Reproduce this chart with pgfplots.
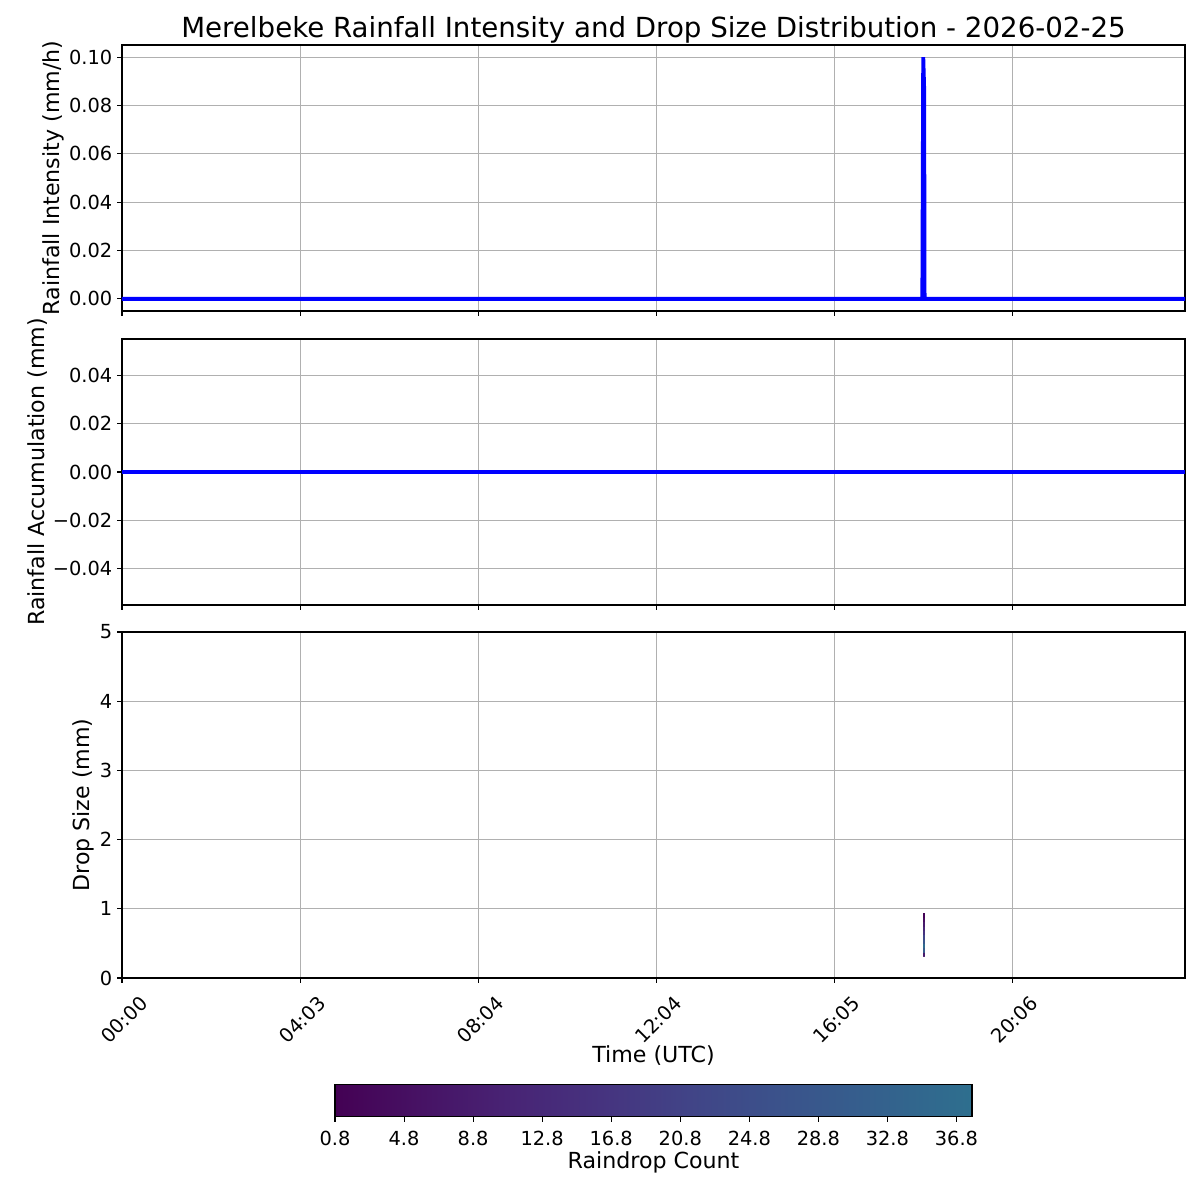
\documentclass[border=0pt]{standalone}
\usepackage{fontspec}
\setmainfont{DejaVu Sans}
\usepackage{pgfplots}
\pgfplotsset{compat=1.18}
\newlength\px \setlength\px{0.7227pt}
\definecolor{gridgray}{HTML}{B0B0B0}
\pgfplotsset{
  base/.style={scale only axis, width=1063\px, xmin=0, xmax=24,
    xtick={0,4.02,8.04,12.06,16.08,20.1},
    scaled ticks=false,
    grid=major, grid style={gridgray, line width=0.8pt},
    axis line style={line width=0.8pt},
    tick style={black, line width=0.8pt},
    tick align=outside, major tick length=3.5pt,
    tick pos=left,
    ticklabel style={font=\fontsize{14}{16}\selectfont},
    label style={font=\fontsize{16}{19}\selectfont},
    ylabel style={yshift=-4\px},
  },
}
\pgfplotsset{colormap={vir}{rgb255(0)=(68,1,84) rgb255(5)=(71,19,101) rgb255(10)=(72,36,117) rgb255(15)=(70,51,127) rgb255(20)=(65,68,135) rgb255(25)=(59,82,139) rgb255(30)=(53,95,141) rgb255(36)=(46,111,142)}}
\begin{document}
\begin{tikzpicture}
\path[use as bounding box] (0,0) rectangle (1200\px,1200\px);
% Top axis
\begin{axis}[base, at={(122\px,889\px)}, anchor=south west, height=266\px,
  ymin=-0.005, ymax=0.105,
  ytick={0,0.02,0.04,0.06,0.08,0.1},
  yticklabels={0.00,0.02,0.04,0.06,0.08,0.10},
  xticklabels={},
  ylabel={Rainfall Intensity (mm/h)}]
\addplot[blue, line width=2.8pt] coordinates {
(0,0) (18.07,0) (18.09,0.1) (18.11,0.087) (18.12,0) (24,0)};
\end{axis}
% Middle axis
\begin{axis}[base, at={(122\px,595\px)}, anchor=south west, height=266\px,
  ymin=-0.055, ymax=0.055,
  ytick={-0.04,-0.02,0,0.02,0.04},
  yticklabels={−0.04,−0.02,0.00,0.02,0.04},
  xticklabels={},
  ylabel={Rainfall Accumulation (mm)}]
\addplot[blue, line width=2.8pt] coordinates {(0,0) (24,0)};
\end{axis}
% Bottom axis
\begin{axis}[base, at={(122\px,222\px)}, anchor=south west, height=346\px,
  ymin=0, ymax=5,
  ytick={0,1,2,3,4,5},
  yticklabels={0,1,2,3,4,5},
  xticklabels={00:00,04:03,08:04,12:04,16:05,20:06},
  xticklabel style={anchor=center, yshift=-26.7pt, xshift=2\px, rotate=45},
  xlabel={Time (UTC)},
  xlabel style={at={(axis description cs:0.5,0)}, anchor=base, yshift=-84\px},
  ylabel={Drop Size (mm)},
  colormap name=vir,
  point meta min=0.8, point meta max=37.7,
  colorbar horizontal,
  colorbar/width=32\px,
  colorbar style={at={(parent axis.south)}, anchor=north, yshift=-95\px,
    scale only axis, width=637\px,
    xtick={0.8,4.8,8.8,12.8,16.8,20.8,24.8,28.8,32.8,36.8},
    xticklabels={0.8,4.8,8.8,12.8,16.8,20.8,24.8,28.8,32.8,36.8},
    xticklabel style={font=\fontsize{14}{16}\selectfont, yshift=-5\px},
    xlabel={Raindrop Count},
    xlabel style={font=\fontsize{16}{19}\selectfont, yshift=4\px},
    tick align=outside, major tick length=3.5pt,
    xtick pos=left,
    xtick style={draw=black, line width=0.8pt},
    axis line style={line width=0.8pt},
    ytick=\empty},
  ]
\addplot[patch, patch type=rectangle, shader=flat, point meta=explicit] table[meta=c] {
x y c
18.08 0.3125 8
18.12 0.3125 8
18.12 0.375 8
18.08 0.375 8
18.08 0.375 30
18.12 0.375 30
18.12 0.4375 30
18.08 0.4375 30
18.08 0.4375 36
18.12 0.4375 36
18.12 0.5 36
18.08 0.5 36
18.08 0.5 28
18.12 0.5 28
18.12 0.5625 28
18.08 0.5625 28
18.08 0.5625 22
18.12 0.5625 22
18.12 0.625 22
18.08 0.625 22
18.08 0.625 16
18.12 0.625 16
18.12 0.6875 16
18.08 0.6875 16
18.08 0.6875 12
18.12 0.6875 12
18.12 0.75 12
18.08 0.75 12
18.08 0.75 8
18.12 0.75 8
18.12 0.8125 8
18.08 0.8125 8
18.08 0.8125 4
18.12 0.8125 4
18.12 0.875 4
18.08 0.875 4
18.08 0.875 1.5
18.12 0.875 1.5
18.12 0.9375 1.5
18.08 0.9375 1.5
};
\end{axis}
\node[font=\fontsize{20}{24}\selectfont, anchor=base] at (653.5\px,1162\px)
  {Merelbeke Rainfall Intensity and Drop Size Distribution - 2026-02-25};
\end{tikzpicture}
\end{document}
